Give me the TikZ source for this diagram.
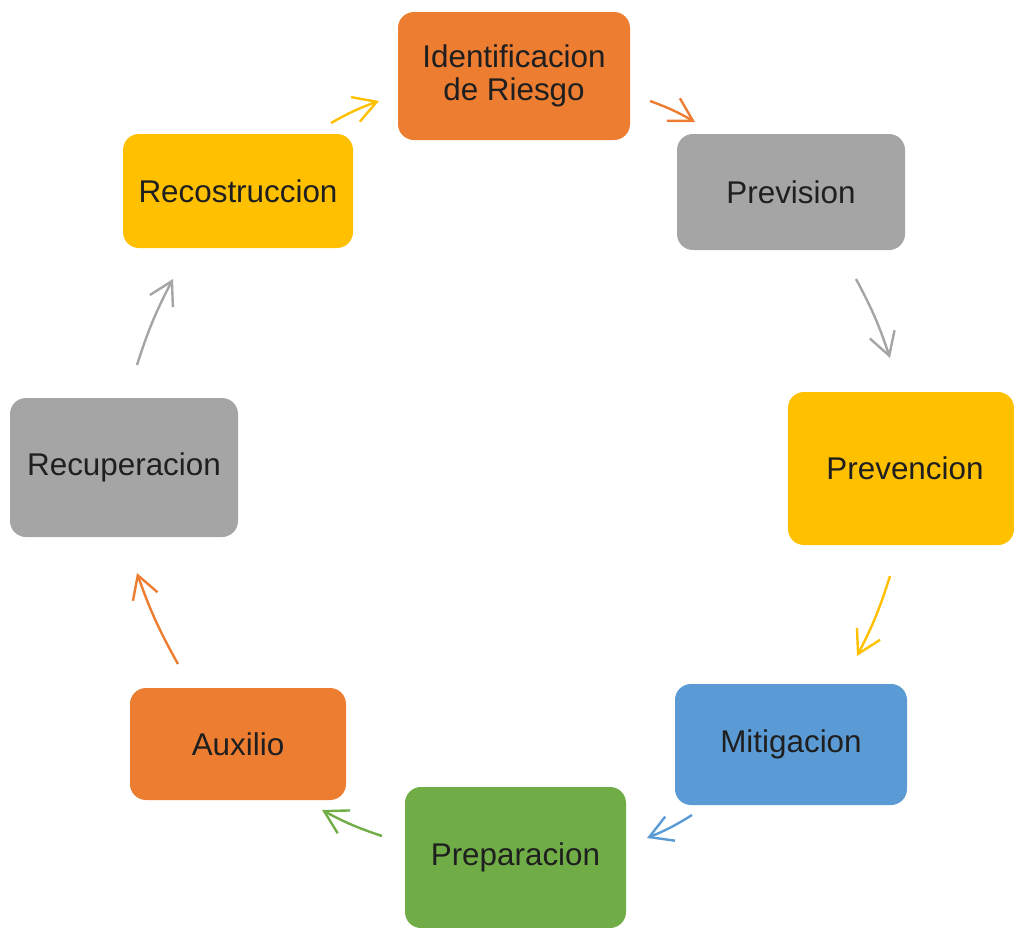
\documentclass[tikz,border=0pt]{standalone}
\usepackage{fontspec}
\setmainfont{Liberation Sans}
\usetikzlibrary{arrows.meta}
\definecolor{naranja}{HTML}{ED7D31}
\definecolor{gris}{HTML}{A5A5A5}
\definecolor{amarillo}{HTML}{FFC000}
\definecolor{azul}{HTML}{5B9BD5}
\definecolor{verde}{HTML}{70AD47}

\begin{document}
\begin{tikzpicture}[x=0.5pt,y=-0.5pt,align=center]
\tikzstyle{fase}=[rounded corners=8pt,inner sep=0pt,text=black!88,font=\fontsize{15.7}{16.5}\selectfont]
\tikzstyle{flecha}=[line width=1.2pt,-{Straight Barb[angle=60:13pt]},bend left=5]

\useasboundingbox (0,0) rectangle (1014,928);

\node[fase,fill=naranja,minimum width=116pt,minimum height=64pt] (ident) at (514,76) {Identificacion\\de Riesgo};
\node[fase,fill=gris,minimum width=114pt,minimum height=58pt] (prevision) at (791,192) {Prevision};
\node[fase,fill=amarillo,minimum width=113pt,minimum height=76.5pt] (prevencion) at (901,468.5) {\hspace{4pt}Prevencion};
\node[fase,fill=azul,minimum width=116pt,minimum height=60.5pt] (mitigacion) at (791,744.5) {Mitigacion};
\node[fase,fill=verde,minimum width=110.5pt,minimum height=70.5pt] (preparacion) at (515.5,857.5) {Preparacion};
\node[fase,fill=naranja,minimum width=108pt,minimum height=56pt] (auxilio) at (238,744) {Auxilio};
\node[fase,fill=gris,minimum width=114pt,minimum height=69.5pt] (recuperacion) at (124,467.5) {Recuperacion};
\node[fase,fill=amarillo,minimum width=115pt,minimum height=57pt] (recostruccion) at (238,191) {Recostruccion};

% extremos de las flechas
\coordinate (f1a) at (331,123);  \coordinate (f1b) at (379,101);
\coordinate (f2a) at (650,101);  \coordinate (f2b) at (695,122);
\coordinate (f3a) at (856,279);  \coordinate (f3b) at (890,358);
\coordinate (f4a) at (890,576);  \coordinate (f4b) at (857,656);
\coordinate (f5a) at (692,815);  \coordinate (f5b) at (647,838);
\coordinate (f6a) at (382,836);  \coordinate (f6b) at (322,810);
\coordinate (f7a) at (178,664);  \coordinate (f7b) at (137,573);
\coordinate (f8a) at (137,365);  \coordinate (f8b) at (173,279);

\draw[flecha,amarillo] (f1a) to (f1b);
\draw[flecha,naranja] (f2a) to (f2b);
\draw[flecha,gris] (f3a) to (f3b);
\draw[flecha,amarillo] (f4a) to (f4b);
\draw[flecha,azul] (f5a) to (f5b);
\draw[flecha,verde] (f6a) to (f6b);
\draw[flecha,naranja] (f7a) to (f7b);
\draw[flecha,gris] (f8a) to (f8b);
\end{tikzpicture}
\end{document}
